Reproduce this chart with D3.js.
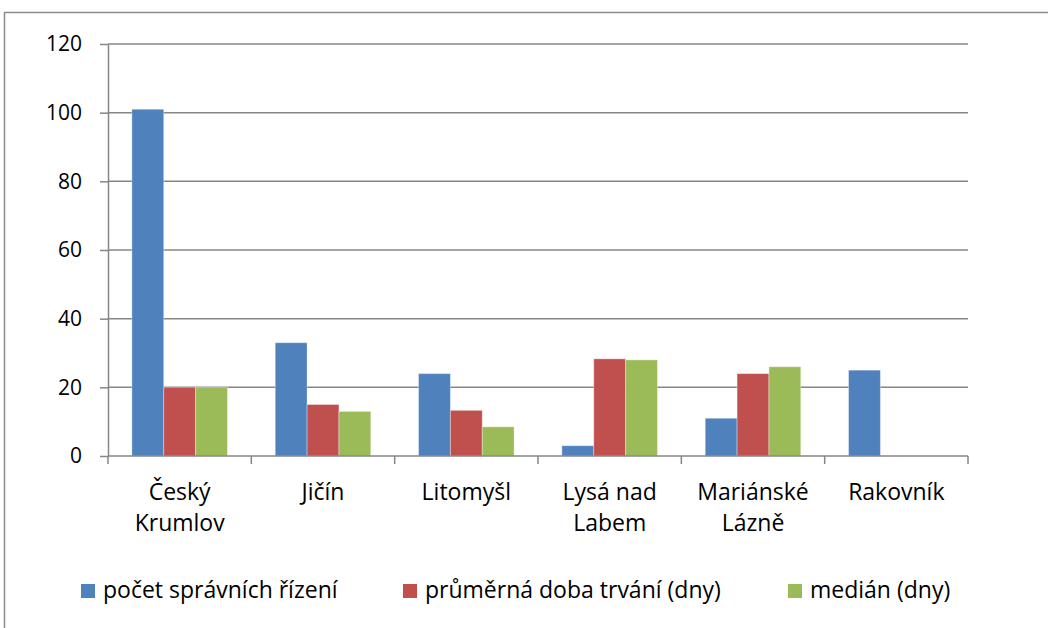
<!DOCTYPE html>
<html>
<head>
<meta charset="utf-8">
<script src="https://cdn.jsdelivr.net/npm/d3@7"></script>
<style>
  html, body { margin: 0; padding: 0; background: #fff; }
  svg { display: block; font-family: "Open Sans", sans-serif; }
</style>
</head>
<body>
<div id="chart"></div>
<script>
// Data
const categories = ["Český Krumlov", "Jičín", "Litomyšl", "Lysá nad Labem", "Mariánské Lázně", "Rakovník"];
const seriesNames = ["počet správních řízení", "průměrná doba trvání (dny)", "medián (dny)"];
const pocetRizeni = [101, 33, 24, 3, 11, 25];
const prumernaDoba = [20, 15, 13.3, 28.3, 24, null];
const median = [20, 13, 8.5, 28, 26, null];
const yTicks = [0, 20, 40, 60, 80, 100, 120];

const seriesValues = [pocetRizeni, prumernaDoba, median];
const colors = ["#4F81BD", "#C0504D", "#9BBB59"];

const W = 1048, H = 628;
const plot = { left: 108, right: 968, top: 44, bottom: 456 };
const labelSize = "23px";

const svg = d3.select("#chart").append("svg")
    .attr("width", W)
    .attr("height", H);

// outer chart frame (cropped at right/bottom like the reference)
svg.append("rect")
    .attr("x", 4.5).attr("y", 12.5)
    .attr("width", W + 10).attr("height", H + 10)
    .attr("fill", "none")
    .attr("stroke", "#8c8c8c")
    .attr("stroke-width", 1.5);

// Scales
const x0 = d3.scaleBand()
    .domain(categories)
    .range([plot.left, plot.right])
    .paddingInner(0)
    .paddingOuter(0);

const x1 = d3.scaleBand()
    .domain(d3.range(seriesNames.length))
    .range([0, x0.bandwidth()])
    .paddingInner(0)
    .paddingOuter(0.75); // Excel gap width 150%

const y = d3.scaleLinear()
    .domain([0, 120])
    .range([plot.bottom, plot.top]);

const gridColor = "#868686";

// Gridlines
svg.append("g")
    .selectAll("line")
    .data(yTicks.filter(d => d > 0))
    .join("line")
    .attr("x1", plot.left).attr("x2", plot.right)
    .attr("y1", d => y(d)).attr("y2", d => y(d))
    .attr("stroke", gridColor)
    .attr("stroke-width", 1.5);

// Y axis
const yAxis = d3.axisLeft(y)
    .tickValues(yTicks)
    .tickSize(8)
    .tickPadding(18)
    .tickSizeOuter(0);

const yAxisG = svg.append("g")
    .attr("transform", `translate(${plot.left},0)`)
    .call(yAxis);
yAxisG.select(".domain").attr("stroke", gridColor).attr("stroke-width", 1.5);
yAxisG.selectAll(".tick line").attr("stroke", gridColor).attr("stroke-width", 1.5);
yAxisG.selectAll(".tick text")
    .style("font-family", "'Open Sans', sans-serif")
    .style("font-size", "21px")
    .attr("fill", "#000");

// Bars
const groups = svg.append("g")
    .selectAll("g")
    .data(categories)
    .join("g")
    .attr("transform", d => `translate(${x0(d)},0)`);

groups.selectAll("rect")
    .data((d, i) => seriesValues.map((s, k) => ({ k, v: s[i] })).filter(e => e.v != null))
    .join("rect")
    .attr("x", d => x1(d.k))
    .attr("width", x1.bandwidth())
    .attr("y", d => y(d.v))
    .attr("height", d => y(0) - y(d.v))
    .attr("fill", d => colors[d.k])
    .attr("stroke", "rgba(255,255,255,0.35)")
    .attr("stroke-width", 1);

// X axis (category boundaries as ticks)
const xAxisG = svg.append("g")
    .attr("transform", `translate(0,${plot.bottom})`);

xAxisG.append("line")
    .attr("x1", plot.left).attr("x2", plot.right)
    .attr("stroke", gridColor)
    .attr("stroke-width", 1.5);

const boundaries = categories.map(c => x0(c)).concat([plot.right]);
xAxisG.selectAll(".bt")
    .data(boundaries)
    .join("line")
    .attr("class", "bt")
    .attr("x1", d => d).attr("x2", d => d)
    .attr("y1", 0).attr("y2", 8)
    .attr("stroke", gridColor)
    .attr("stroke-width", 1.5);

// Category labels with wrapping
const labels = xAxisG.selectAll(".cat")
    .data(categories)
    .join("text")
    .attr("class", "cat")
    .attr("text-anchor", "middle")
    .attr("x", d => x0(d) + x0.bandwidth() / 2)
    .attr("y", 44)
    .style("font-size", labelSize)
    .attr("fill", "#000");

labels.each(function (d) {
    const t = d3.select(this);
    const words = d.split(" ");
    let lines = [], line = [];
    const tmp = t.append("tspan");
    words.forEach(w => {
        const test = line.concat([w]).join(" ");
        tmp.text(test);
        if (tmp.node().getComputedTextLength() > 132 && line.length) {
            lines.push(line.join(" "));
            line = [w];
        } else {
            line.push(w);
        }
    });
    lines.push(line.join(" "));
    tmp.remove();
    lines.forEach((l, i) => {
        t.append("tspan")
            .attr("x", x0(d) + x0.bandwidth() / 2)
            .attr("dy", i === 0 ? 0 : 31)
            .text(l);
    });
});

// Legend
const legendX = [81, 403, 788];
const legend = svg.append("g")
    .selectAll("g")
    .data(seriesNames)
    .join("g")
    .attr("transform", (d, i) => `translate(${legendX[i]},598)`);

legend.append("rect")
    .attr("x", 0).attr("y", -14)
    .attr("width", 14).attr("height", 14)
    .attr("fill", (d, i) => colors[i]);

legend.append("text")
    .attr("x", 22)
    .attr("y", 0)
    .style("font-size", labelSize)
    .attr("fill", "#000")
    .text(d => d);
</script>
</body>
</html>
